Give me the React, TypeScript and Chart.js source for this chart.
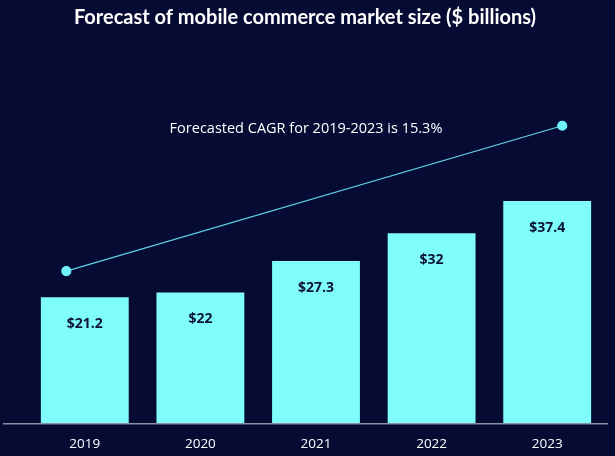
import React, { useEffect, useRef } from "react";
import { Chart, registerables } from "chart.js";

Chart.register(...registerables);

const title = "Forecast of mobile commerce market size ($ billions)";
const years = ["2019", "2020", "2021", "2022", "2023"];
const marketSize = [21.2, 22, 27.3, 32, 37.4];
const valueLabels = ["$21.2", "$22", "$27.3", "$32", "$37.4"];
// trend line endpoints: position along the year axis (index units) and value
const trendX = [-0.16, 4.13];
const trendY = [25.6, 50.1];
const cagrNote = "Forecasted CAGR for 2019-2023 is 15.3%";

const BG = "#060b33";
const BAR = "#7ffcfc";

export default function App() {
  const ref = useRef<HTMLCanvasElement | null>(null);
  useEffect(() => {
    document.body.style.margin = "0";
    const canvas = ref.current!;
    const decor = {
      id: "decor",
      beforeDraw(chart: any) {
        const { ctx, width, height } = chart;
        ctx.save();
        ctx.fillStyle = BG;
        ctx.fillRect(0, 0, width, height);
        ctx.fillStyle = "#ffffff";
        ctx.font = "bold 20px Lato";
        ctx.textAlign = "center";
        ctx.textBaseline = "middle";
        ctx.fillText(title, 305, 18);
        ctx.restore();
      },
      afterDatasetsDraw(chart: any) {
        const { ctx, chartArea } = chart;
        ctx.save();
        const meta = chart.getDatasetMeta(0);
        ctx.fillStyle = "#0b1238";
        ctx.font = "bold 14px 'Open Sans'";
        ctx.textAlign = "center";
        ctx.textBaseline = "middle";
        meta.data.forEach((bar: any, i: number) => {
          ctx.fillText(valueLabels[i], bar.x, bar.y + 27);
        });
        ctx.fillStyle = "#ffffff";
        ctx.font = "13.5px 'Open Sans'";
        const xs = chart.scales.x;
        years.forEach((y, i) => {
          ctx.fillText(y, xs.getPixelForValue(i), chartArea.bottom + 21);
        });
        ctx.strokeStyle = "#8a90a8";
        ctx.lineWidth = 1.5;
        ctx.beginPath();
        ctx.moveTo(3, chartArea.bottom + 0.75);
        ctx.lineTo(608, chartArea.bottom + 0.75);
        ctx.stroke();
        ctx.fillStyle = "#ffffff";
        ctx.font = "14.5px 'Open Sans'";
        ctx.fillText(cagrNote, 306, 129);
        ctx.restore();
      },
    };
    const chart = new Chart(canvas, {
      type: "bar",
      data: {
        datasets: [
          {
            type: "bar",
            data: marketSize.map((v, i) => ({ x: i, y: v })),
            backgroundColor: BAR,
            categoryPercentage: 1,
            barPercentage: 0.76,
            grouped: false,
            order: 2,
          } as any,
          {
            type: "line",
            data: trendX.map((x, i) => ({ x, y: trendY[i] })),
            borderColor: "#5fd3e6",
            borderWidth: 1.2,
            pointBackgroundColor: "#6ff2fa",
            pointBorderColor: "#6ff2fa",
            pointRadius: 4.5,
            order: 1,
          } as any,
        ],
      },
      plugins: [decor],
      options: {
        animation: false,
        responsive: false,
        layout: { padding: { top: 67, left: 27, right: 10, bottom: 33 } },
        plugins: { legend: { display: false }, tooltip: { enabled: false } },
        scales: {
          y: { display: false, min: 0, max: 60 },
          x: {
            type: "linear",
            display: false,
            min: -0.5,
            max: 4.5,
            offset: false,
            afterBuildTicks: (s: any) => {
              s.ticks = years.map((_, i) => ({ value: i }));
            },
          },
        },
      },
    });
    return () => chart.destroy();
  }, []);
  return (
    <div style={{ position: "absolute", left: 0, top: 0, width: 615, height: 456 }}>
      <canvas ref={ref} width={615} height={456} />
    </div>
  );
}
